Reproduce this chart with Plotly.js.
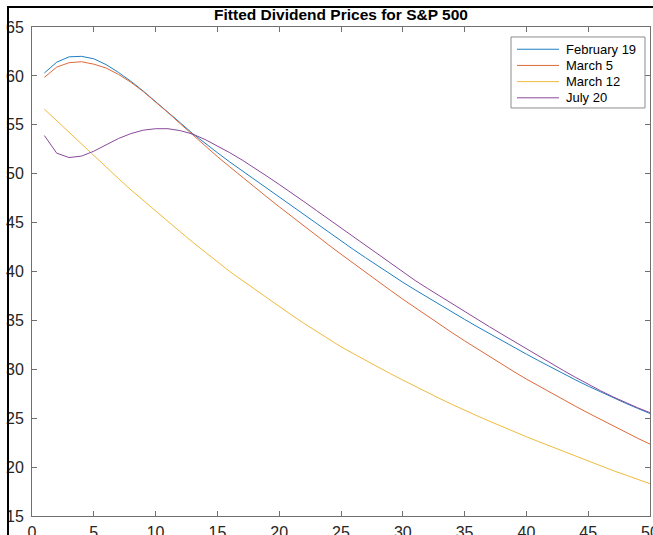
<!DOCTYPE html>
<html>
<head>
<meta charset="utf-8">
<script src="https://cdn.plot.ly/plotly-3.0.1.min.js"></script>
<style>
html,body{margin:0;padding:0;background:#fff;overflow:hidden;}
#chart{width:653px;height:535px;position:absolute;left:0;top:0;}
#frame{position:absolute;left:7px;top:6px;width:660px;height:540px;border-left:2px solid #000;border-top:2px solid #000;pointer-events:none;z-index:10;}
</style>
</head>
<body>
<div id="chart"></div>
<div id="frame"></div>
<script>
const xDays = [];
for (let i = 1; i <= 50; i++) xDays.push(i);

const seriesNames = ["February 19", "March 5", "March 12", "July 20"];

const feb19 = [60.3, 61.4, 61.95, 62.0, 61.75, 61.15, 60.35, 59.45, 58.45, 57.4,
  56.3, 55.2, 54.1, 53.1, 52.15, 51.2, 50.3, 49.4, 48.5, 47.6,
  46.7, 45.8, 44.9, 44.0, 43.1, 42.25, 41.4, 40.55, 39.72, 38.9,
  38.12, 37.35, 36.59, 35.84, 35.1, 34.37, 33.65, 32.94, 32.24, 31.55,
  30.87, 30.2, 29.54, 28.9, 28.28, 27.68, 27.1, 26.54, 26.0, 25.48];

const mar5 = [59.85, 60.9, 61.35, 61.45, 61.2, 60.8, 60.15, 59.35, 58.4, 57.35,
  56.25, 55.1, 53.95, 52.85, 51.75, 50.7, 49.65, 48.62, 47.62, 46.62,
  45.63, 44.65, 43.68, 42.72, 41.77, 40.83, 39.9, 38.98, 38.07, 37.17,
  36.29, 35.42, 34.57, 33.73, 32.91, 32.1, 31.3, 30.52, 29.75, 29.0,
  28.28, 27.57, 26.88, 26.2, 25.53, 24.87, 24.22, 23.58, 22.95, 22.35];

const mar12 = [56.6, 55.4, 54.2, 53.0, 51.8, 50.65, 49.5, 48.35, 47.25, 46.15,
  45.1, 44.05, 43.0, 42.0, 41.0, 40.0, 39.1, 38.2, 37.3, 36.4,
  35.55, 34.7, 33.9, 33.1, 32.3, 31.6, 30.9, 30.2, 29.55, 28.9,
  28.25, 27.6, 27.0, 26.4, 25.8, 25.25, 24.7, 24.15, 23.6, 23.1,
  22.6, 22.1, 21.58, 21.07, 20.57, 20.1, 19.65, 19.2, 18.75, 18.3];

const jul20 = [53.9, 52.1, 51.65, 51.8, 52.3, 52.95, 53.6, 54.1, 54.45, 54.6,
  54.6, 54.4, 54.05, 53.5, 52.85, 52.15, 51.4, 50.6, 49.75, 48.9,
  48.05, 47.15, 46.25, 45.35, 44.45, 43.55, 42.65, 41.75, 40.82, 39.9,
  39.08, 38.27, 37.47, 36.68, 35.9, 35.13, 34.36, 33.6, 32.84, 32.09,
  31.34, 30.6, 29.87, 29.16, 28.47, 27.81, 27.19, 26.61, 26.07, 25.57];

const xTicks = [0, 5, 10, 15, 20, 25, 30, 35, 40, 45, 50];
const yTicks = [15, 20, 25, 30, 35, 40, 45, 50, 55, 60, 65];

const colors = ["#1f7fc0", "#dc6a3a", "#eebb3c", "#8a4a9a"];
const allY = [feb19, mar5, mar12, jul20];

const traces = allY.map((ys, i) => ({
  x: xDays, y: ys, type: "scatter", mode: "lines",
  name: seriesNames[i], showlegend: false,
  line: {color: colors[i], width: 1}
}));

const FONT = "Liberation Sans, Arial, sans-serif";

const axisCommon = {
  showgrid: false, zeroline: false,
  showline: true, linecolor: "#707070", linewidth: 1,
  mirror: "ticks", ticks: "inside", ticklen: 5, tickcolor: "#707070", tickwidth: 1,
  tickfont: {family: FONT, size: 16, color: "#262626"},
  ticklabeloverflow: "allow",
  fixedrange: true
};

// custom legend (box, line samples and labels) in paper coordinates
const legX0 = 0.7751, legX1 = 0.9919, legY0 = 0.8344, legY1 = 0.9796;
const rowTop = 0.9545, rowStep = 0.0331;
const shapes = [{
  type: "rect", xref: "paper", yref: "paper",
  x0: legX0, x1: legX1, y0: legY0, y1: legY1,
  line: {color: "#8c8c8c", width: 1}, fillcolor: "#fff", layer: "above"
}];
const annotations = [];
seriesNames.forEach((nm, i) => {
  const yy = rowTop - i * rowStep;
  shapes.push({type: "line", xref: "paper", yref: "paper",
    x0: 0.7848, x1: 0.8528, y0: yy, y1: yy,
    line: {color: colors[i], width: 1}, layer: "above"});
  annotations.push({xref: "paper", yref: "paper", x: 0.8608, y: yy,
    xanchor: "left", yanchor: "middle", showarrow: false, text: nm,
    font: {family: FONT, size: 13, color: "#000"}});
});

const layout = {
  width: 653, height: 535,
  margin: {l: 32, r: 3, t: 27, b: 19, pad: 0},
  paper_bgcolor: "#fff", plot_bgcolor: "#fff",
  title: {
    text: "<b>Fitted Dividend Prices for S&P 500</b>",
    font: {family: FONT, size: 15.5, color: "#000"},
    x: 0.5, xref: "paper", xanchor: "center",
    y: 1 - 15/535, yref: "container", yanchor: "middle"
  },
  xaxis: Object.assign({}, axisCommon, {range: [0, 50], tickvals: xTicks, ticktext: xTicks.map(String), ticklabelstandoff: 2}),
  yaxis: Object.assign({}, axisCommon, {range: [15, 65], tickvals: yTicks, ticktext: yTicks.map(String), ticklabelstandoff: 4}),
  showlegend: false,
  shapes: shapes,
  annotations: annotations
};

Plotly.newPlot("chart", traces, layout, {staticPlot: true, displayModeBar: false});
</script>
</body>
</html>
